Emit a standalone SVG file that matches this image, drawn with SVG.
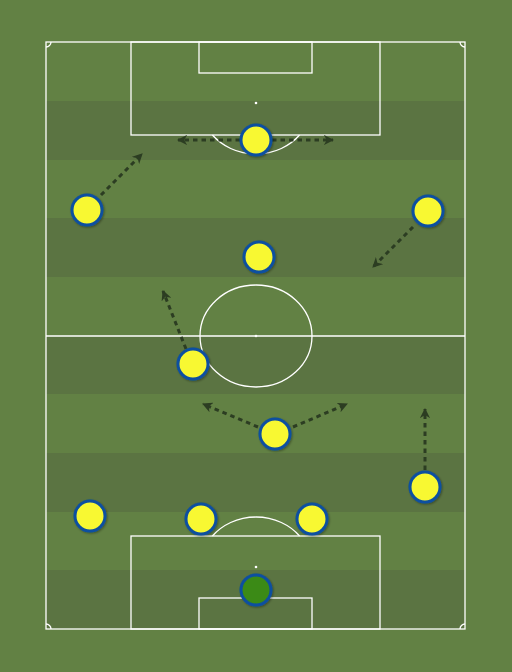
<svg xmlns="http://www.w3.org/2000/svg" width="512" height="672" viewBox="0 0 512 672">
<defs>
<style>
.line{fill:none;stroke:#ffffff;stroke-width:1.3}
.dark{fill:#5b7442}
.pl{fill:#f8f832;stroke:#0c4fa0;stroke-width:3}
.gk{fill:#3a8a17;stroke:#0c4fa0;stroke-width:3}
.arr{fill:none;stroke:#2c3d22;stroke-width:3;stroke-dasharray:4.5,4;marker-end:url(#ah)}
</style>
<marker id="ah" viewBox="0 0 10 10" refX="9" refY="5" markerWidth="3.4" markerHeight="3.4" orient="auto" markerUnits="strokeWidth">
<path d="M0,0 L10,5 L0,10 L3,5 Z" fill="#2c3d22"/>
</marker>
<filter id="sh" x="-30%" y="-30%" width="160%" height="160%"><feDropShadow dx="1" dy="1" stdDeviation="1" flood-color="#000" flood-opacity="0.35"/></filter>
</defs>
<rect width="512" height="672" fill="#628144"/>
<g id="stripes">
<rect class="dark" x="46" y="101" width="419" height="59"/>
<rect class="dark" x="46" y="218" width="419" height="59"/>
<rect class="dark" x="46" y="336" width="419" height="58"/>
<rect class="dark" x="46" y="453" width="419" height="59"/>
<rect class="dark" x="46" y="570" width="419" height="59"/>
</g>
<g id="pitch-lines">
<rect class="line" x="46" y="42" width="419" height="587" stroke="#dfe4d4"/>
<line class="line" x1="46" y1="336" x2="465" y2="336"/>
<ellipse class="line" cx="256" cy="336" rx="56" ry="51"/>
<circle cx="256" cy="336" r="1.3" fill="#fff"/>
<rect class="line" x="131" y="42" width="249" height="93"/>
<rect class="line" x="199" y="42" width="113" height="31"/>
<circle cx="256" cy="103" r="1.3" fill="#fff"/>
<path class="line" d="M212.4,135 A56,51 0 0 0 299.6,135"/>
<rect class="line" x="131" y="536" width="249" height="93"/>
<rect class="line" x="199" y="598" width="113" height="31"/>
<circle cx="256" cy="567" r="1.3" fill="#fff"/>
<path class="line" d="M212.4,536 A56,51 0 0 1 299.6,536"/>
<path class="line" d="M46,47 A5,5 0 0 0 51,42"/>
<path class="line" d="M460,42 A5,5 0 0 0 465,47"/>
<path class="line" d="M46,624 A5,5 0 0 1 51,629"/>
<path class="line" d="M460,629 A5,5 0 0 1 465,624"/>
</g>
<g id="connectors">
<line class="arr" x1="240" y1="140" x2="178" y2="140"/>
<line class="arr" x1="272" y1="140" x2="333" y2="140"/>
<line class="arr" x1="101" y1="195" x2="142" y2="154"/>
<line class="arr" x1="413" y1="227" x2="373" y2="267"/>
<line class="arr" x1="186" y1="349" x2="163" y2="291"/>
<line class="arr" x1="258" y1="427" x2="203" y2="404"/>
<line class="arr" x1="293" y1="427" x2="347" y2="404"/>
<line class="arr" x1="425" y1="470" x2="425" y2="409"/>
</g>
<g id="players" filter="url(#sh)">
<g id="p1"><circle class="pl" cx="256" cy="140" r="15"/></g>
<g id="p2"><circle class="pl" cx="87" cy="210" r="15"/></g>
<g id="p3"><circle class="pl" cx="428" cy="211" r="15"/></g>
<g id="p4"><circle class="pl" cx="259" cy="257" r="15"/></g>
<g id="p5"><circle class="pl" cx="193" cy="364" r="15"/></g>
<g id="p6"><circle class="pl" cx="275" cy="434" r="15"/></g>
<g id="p7"><circle class="pl" cx="425" cy="487" r="15"/></g>
<g id="p8"><circle class="pl" cx="90" cy="516" r="15"/></g>
<g id="p9"><circle class="pl" cx="201" cy="519" r="15"/></g>
<g id="p10"><circle class="pl" cx="312" cy="519" r="15"/></g>
<g id="gk"><circle class="gk" cx="256" cy="590" r="15"/></g>
</g>
</svg>
